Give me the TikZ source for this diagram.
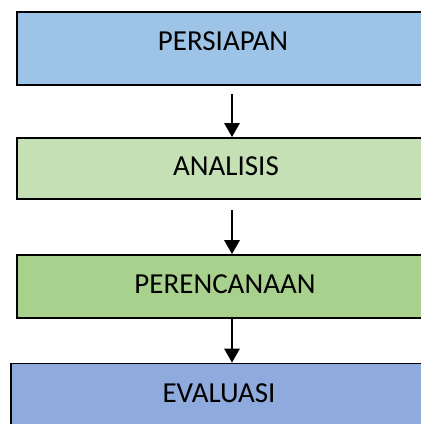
\documentclass[tikz,border=0pt]{standalone}
\usepackage{fontspec}
\setmainfont{Carlito}
\usetikzlibrary{arrows.meta}

\definecolor{bluelight}{HTML}{9DC3E6}
\definecolor{greenlight}{HTML}{C5E0B4}
\definecolor{greenmid}{HTML}{A9D18E}
\definecolor{bluemid}{HTML}{8FAADC}

\begin{document}
\begin{tikzpicture}[x=1pt, y=-1pt]
\tikzset{stage/.style={draw=black, line width=1.8pt, font=\fontsize{29}{31}\selectfont, text depth=4pt, inner sep=0pt}}
\tikzset{flow/.style={line width=1.6pt, -{Triangle[width=15.5pt, length=14pt]}}}
    \useasboundingbox (0, 0) rectangle (421, 424);
    \clip (0, 0) rectangle (421, 424);

    \node[stage, fill=bluelight, minimum width=412pt, minimum height=73pt, text depth=15pt] (persiapan) at (223, 48.5) {PERSIAPAN};
    \node[stage, fill=greenlight, minimum width=418pt, minimum height=61pt] (analisis) at (226, 168.5) {ANALISIS};
    \node[stage, fill=greenmid, minimum width=416pt, minimum height=63pt] (perencanaan) at (225, 286.5) {PERENCANAAN};
    \node[stage, fill=bluemid, minimum width=416pt, minimum height=63pt] (evaluasi) at (219, 395) {EVALUASI};

    \coordinate (axis) at (232, 0);
    \draw[flow, shorten <=8pt] (persiapan.south -| axis) -- (analisis.north -| axis);
    \draw[flow, shorten <=10pt] (analisis.south -| axis) -- (perencanaan.north -| axis);
    \draw[flow] (perencanaan.south -| axis) -- (evaluasi.north -| axis);
\end{tikzpicture}
\end{document}
